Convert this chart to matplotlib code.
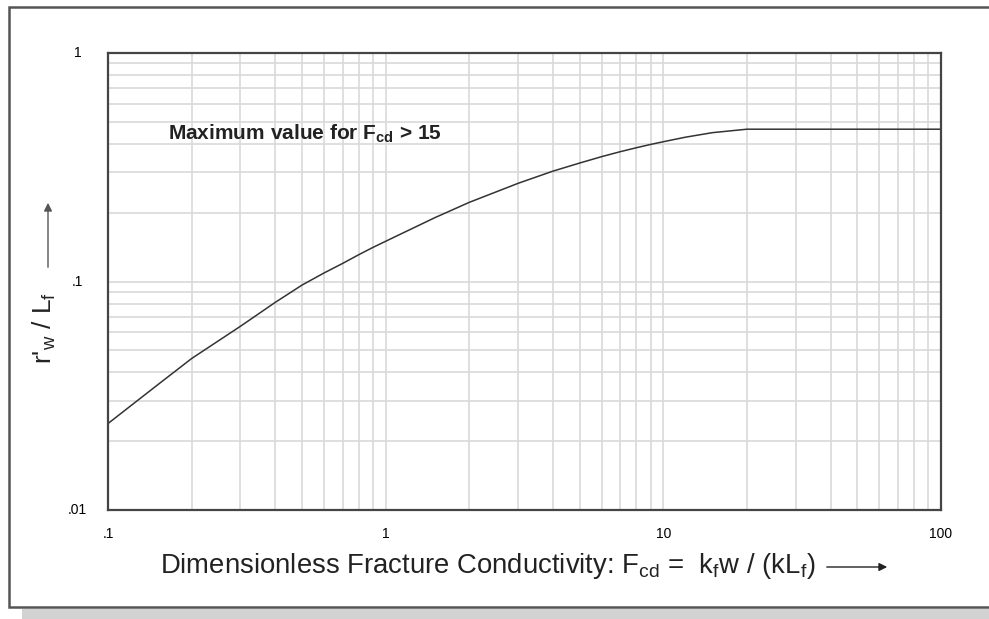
import numpy as np
import matplotlib.pyplot as plt
from matplotlib.patches import Rectangle

# data
fcd = [0.1, 0.15, 0.2, 0.3, 0.4, 0.5, 0.6, 0.7, 0.8, 0.9, 1, 1.5, 2, 3, 4, 5, 6, 7, 8, 9,
       10, 12, 15, 20, 100]
rw_lf = [0.0239, 0.0351, 0.0460, 0.0637, 0.081, 0.0965, 0.109, 0.120, 0.131, 0.141, 0.150,
         0.190, 0.222, 0.269, 0.304, 0.330, 0.352, 0.370, 0.385, 0.398,
         0.409, 0.428, 0.448, 0.464, 0.464]
xticks = [0.1, 1, 10, 100]
xticklabels = ['.1', '1', '10', '100']
yticks = [0.01, 0.1, 1]
yticklabels = ['.01', '.1', '1']

plt.rcParams['font.family'] = ['Liberation Sans', 'DejaVu Sans']
plt.rcParams['mathtext.fontset'] = 'custom'
plt.rcParams['mathtext.rm'] = 'Liberation Sans'
plt.rcParams['mathtext.it'] = 'Liberation Sans'
plt.rcParams['mathtext.bf'] = 'Liberation Sans:bold'

fig = plt.figure(figsize=(9.89, 6.19), dpi=100)

# outer frame and shadow
fig.patches.append(Rectangle((22 / 989, 0), 1, 10 / 619, transform=fig.transFigure,
                             facecolor='#d2d2d2', edgecolor='none', zorder=-2))
fig.patches.append(Rectangle((9 / 989, 12 / 619), 1.1, 600 / 619, transform=fig.transFigure,
                             facecolor='white', edgecolor='#555555', lw=1.8, zorder=-1))

ax = fig.add_axes([108 / 989, 1 - 510 / 619, 833 / 989, 457 / 619])
ax.set_xscale('log')
ax.set_yscale('log')
ax.set_xlim(0.1, 100)
ax.set_ylim(0.01, 1)

ax.plot(fcd, rw_lf, color='#333333', lw=1.1)

ax.grid(True, which='both', color='#d9d9d9', lw=1.2)
ax.set_axisbelow(True)
for s in ax.spines.values():
    s.set_color('#444444')
    s.set_linewidth(1.6)

ax.set_xticks(xticks)
ax.set_xticklabels(xticklabels, fontsize=10)
ax.set_yticks(yticks)
ax.set_yticklabels(yticklabels, fontsize=10)
ax.tick_params(which='both', length=0)
ax.tick_params(axis='x', pad=12)
ax.tick_params(axis='y', pad=22)
for lab in ax.get_yticklabels():
    lab.set_horizontalalignment('center')
    lab.set_verticalalignment('center')

ax.text(0.164, 0.442, r'Maximum value for F$_{\mathbf{cd}}$ > 15', fontsize=15,
        fontweight='bold', color='#222222', va='center')

fig.text(160 / 989, 1 - 566 / 619,
         r'Dimensionless Fracture Conductivity: F$_{\mathrm{cd}}$ =  k$_{\mathrm{f}}$w / (kL$_{\mathrm{f}}$)',
         fontsize=19.8, color='#222222', va='center', ha='left')
ax.annotate('', xy=(890 / 989, 1 - 567 / 619), xytext=(824 / 989, 1 - 567 / 619),
            xycoords='figure fraction', textcoords='figure fraction',
            arrowprops=dict(arrowstyle='-|>', color='#222222', lw=1.0, mutation_scale=12))

fig.text(44 / 989, 1 - 328 / 619, r"r'$_{\mathrm{w}}$ / L$_{\mathrm{f}}$", fontsize=19,
         rotation=90, color='#222222', va='center', ha='center')
ax.annotate('', xy=(48 / 989, 1 - 200 / 619), xytext=(48 / 989, 1 - 270 / 619),
            xycoords='figure fraction', textcoords='figure fraction',
            arrowprops=dict(arrowstyle='-|>', color='#555555', lw=1.0, mutation_scale=12))

fig.savefig('out.png', dpi=100)
